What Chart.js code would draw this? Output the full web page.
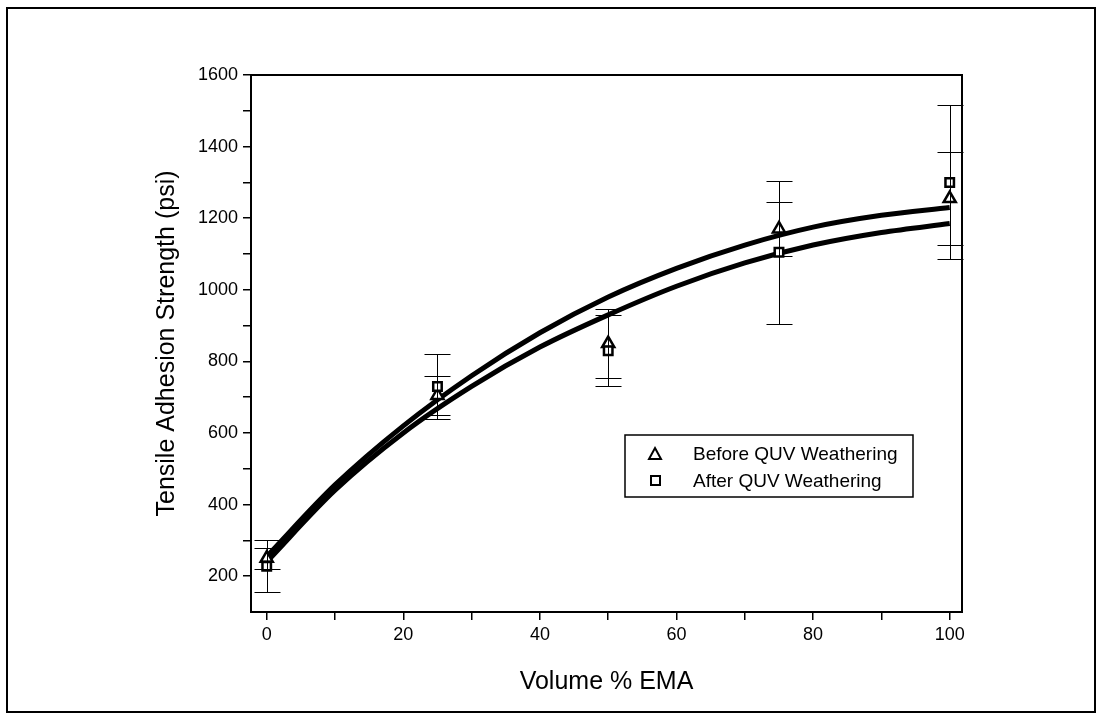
<!DOCTYPE html>
<html>
<head>
<meta charset="utf-8">
<style>
  html, body { margin: 0; padding: 0; background: #fff; }
  #wrap { width: 1102px; height: 719px; position: relative; }
</style>
<script src="https://cdn.jsdelivr.net/npm/chart.js@4/dist/chart.umd.min.js"></script>
</head>
<body>
<div id="wrap"><canvas id="chart" width="1102" height="719"></canvas></div>
<script>
// Measured points
const volumeEMA = [0, 25, 50, 75, 100];
const beforeQUV = [250, 705, 850, 1170, 1255];
const beforeErr = [30, 55, 95, 75, 130];
const afterQUV = [228, 730, 830, 1105, 1300];
const afterErr = [72, 90, 100, 200, 215];

// Fitted curves
const fitX = [0, 10, 20, 30, 40, 50, 60, 70, 80, 90, 100];
const fitBefore = [255, 455, 620, 760, 880, 980, 1060, 1125, 1175, 1208, 1230];
const fitAfter = [240, 440, 600, 730, 840, 930, 1010, 1075, 1125, 1160, 1185];

const xTicks = [0, 10, 20, 30, 40, 50, 60, 70, 80, 90, 100];
const yTicks = [200, 300, 400, 500, 600, 700, 800, 900, 1000, 1100, 1200, 1300, 1400, 1500, 1600];

const FONT = "'Liberation Sans', Arial, sans-serif";

function pts(xs, ys) {
  return xs.map((x, i) => ({ x: x, y: ys[i] }));
}

// error bars + plot frame + outer frame + legend box
const extras = {
  id: "extras",
  afterDatasetsDraw(chart) {
    const ctx = chart.ctx;
    const xs = chart.scales.x, ys = chart.scales.y;
    const a = chart.chartArea;

    ctx.save();
    ctx.strokeStyle = "#000";
    ctx.lineWidth = 1;
    const bars = [[beforeQUV, beforeErr], [afterQUV, afterErr]];
    bars.forEach(([vals, errs]) => {
      vals.forEach((v, i) => {
        const px = Math.round(xs.getPixelForValue(volumeEMA[i])) + 0.5;
        const top = Math.round(ys.getPixelForValue(v + errs[i])) + 0.5;
        const bot = Math.round(ys.getPixelForValue(v - errs[i])) + 0.5;
        ctx.beginPath();
        ctx.moveTo(px, top); ctx.lineTo(px, bot);
        ctx.moveTo(px - 13, top); ctx.lineTo(px + 13, top);
        ctx.moveTo(px - 13, bot); ctx.lineTo(px + 13, bot);
        ctx.stroke();
      });
    });

    // plot box
    ctx.lineWidth = 2;
    ctx.strokeRect(a.left, a.top, a.right - a.left, a.bottom - a.top);

    // outer frame
    ctx.lineWidth = 2;
    ctx.strokeRect(7, 8, 1088, 704);

    // legend
    const lx = 625, ly = 435, lw = 288, lh = 62;
    ctx.fillStyle = "#fff";
    ctx.fillRect(lx, ly, lw, lh);
    ctx.lineWidth = 1.5;
    ctx.strokeRect(lx, ly, lw, lh);
    ctx.fillStyle = "#000";
    ctx.font = "19px " + FONT;
    ctx.textBaseline = "middle";
    ctx.lineWidth = 2;
    // triangle
    ctx.beginPath();
    ctx.moveTo(655, 448); ctx.lineTo(661, 459); ctx.lineTo(649, 459); ctx.closePath();
    ctx.stroke();
    ctx.fillText(chart.data.datasets[0].label, 693, 455);
    // square
    ctx.strokeRect(651, 476, 9, 9);
    ctx.fillText(chart.data.datasets[1].label, 693, 482);
    ctx.restore();
  }
};

new Chart(document.getElementById("chart"), {
  type: "scatter",
  data: {
    datasets: [
      {
        label: "Before QUV Weathering",
        data: pts(volumeEMA, beforeQUV),
        pointStyle: "triangle",
        pointRadius: 7,
        borderColor: "#000",
        backgroundColor: "#fff",
        borderWidth: 2.5,
        order: 1
      },
      {
        label: "After QUV Weathering",
        data: pts(volumeEMA, afterQUV),
        pointStyle: "rect",
        pointRadius: 6,
        borderColor: "#000",
        backgroundColor: "#fff",
        borderWidth: 2.5,
        order: 0
      },
      {
        label: "fit before",
        type: "line",
        data: pts(fitX, fitBefore),
        borderColor: "#000",
        borderWidth: 5,
        pointRadius: 0,
        cubicInterpolationMode: "monotone",
        fill: false,
        order: 3
      },
      {
        label: "fit after",
        type: "line",
        data: pts(fitX, fitAfter),
        borderColor: "#000",
        borderWidth: 5,
        pointRadius: 0,
        cubicInterpolationMode: "monotone",
        fill: false,
        order: 3
      }
    ]
  },
  options: {
    responsive: false,
    animation: false,
    layout: { padding: { left: 148, top: 75, right: 140, bottom: 18 } },
    plugins: { legend: { display: false }, tooltip: { enabled: false } },
    scales: {
      x: {
        type: "linear",
        min: -2.3,
        max: 101.8,
        afterBuildTicks: axis => { axis.ticks = xTicks.map(v => ({ value: v })); },
        afterFit: s => { s.height = 89; },
        grid: { drawOnChartArea: false, drawTicks: true, tickLength: 8, color: "#000", lineWidth: 1.5 },
        border: { color: "#000", width: 2 },
        ticks: {
          color: "#000",
          font: { family: FONT, size: 18 },
          padding: 4,
          maxRotation: 0,
          callback: v => (v % 20 === 0 ? v : "")
        },
        title: {
          display: true,
          text: "Volume % EMA",
          color: "#000",
          font: { family: FONT, size: 25 },
          padding: { top: 4, bottom: 4 }
        }
      },
      y: {
        type: "linear",
        min: 100,
        max: 1600,
        afterBuildTicks: axis => { axis.ticks = yTicks.map(v => ({ value: v })); },
        afterFit: s => { s.width = 103; },
        grid: { drawOnChartArea: false, drawTicks: true, tickLength: 8, color: "#000", lineWidth: 1.5 },
        border: { color: "#000", width: 2 },
        ticks: {
          color: "#000",
          font: { family: FONT, size: 18 },
          padding: 5,
          callback: v => (v % 200 === 0 ? v : "")
        },
        title: {
          display: true,
          text: "Tensile Adhesion Strength (psi)",
          color: "#000",
          font: { family: FONT, size: 25 },
          padding: { top: 4, bottom: 4 }
        }
      }
    }
  },
  plugins: [extras]
});
</script>
</body>
</html>
